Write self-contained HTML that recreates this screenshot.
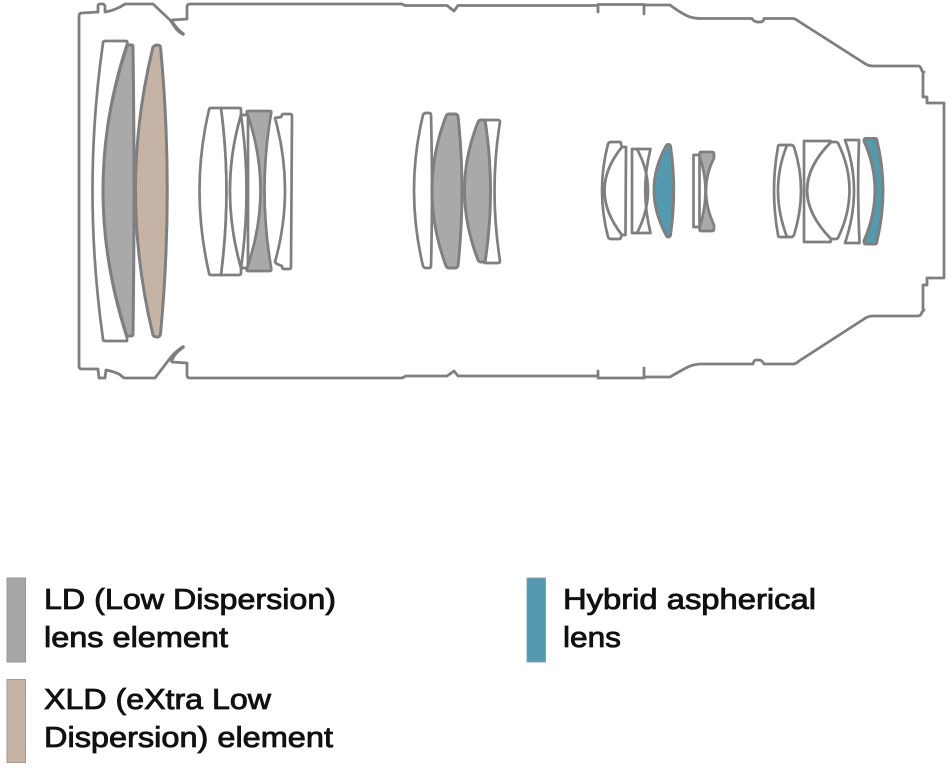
<!DOCTYPE html>
<html><head><meta charset="utf-8"><style>
html,body{margin:0;padding:0;background:#fff;width:952px;height:768px;overflow:hidden}
svg{display:block}
.l{fill:none;stroke:#7f7f7f;stroke-width:2.7;stroke-linejoin:round;stroke-linecap:round}
.g{fill:#a9a9a9}.x{fill:#c5b4a5}.b{fill:#5499ad}.w{fill:#fff}
text{font-family:"Liberation Sans",sans-serif;font-size:28.5px;fill:#111;stroke:#111;stroke-width:.85}
</style></head><body>
<svg width="952" height="768" viewBox="0 0 952 768" xmlns="http://www.w3.org/2000/svg">
<!-- barrel -->
<path class="l" style="stroke-width:2.8" d="M79,366 L79,16 Q79,13 82,13 L98,12 L98,6 Q98,4 100,4 L103,4 Q104,4 105,6 L105,12 Q112,11 120,7 L125,4 L153,4 L170,20 Q176,29 183,34 Q176,31 171.5,21 L172,20 L187,19 L187,7 Q187,4 190,4 L402,4 L405,5.5 L447,5.5 L454,11 L458,5.5 L598,5.5 L598,12 L598,4.5 L644,4.5 L644,14 L644,5 L670,5 Q682,14 690,17 Q695,18.5 702,18.5 L752,18.5 Q753,21 757,22 L761,22 Q764,21 764,18.5 L793,18.5 Q796,19 799,21.5 L864,63 Q868,66 873,66 L919,66 Q921,67 922,71 L924,72 L923,73 L923,97 L927,97 L927,103 L944,103 L944,278 L927,278 L927,285 L923,285 L923,309 L924,310 L922,312 Q921,316 918,316 L873,316 Q868,316 864,319 L799,361 Q796,364 793,364 L764,364 Q762,360 759,360 L756,360 Q754,360 753,364 L702,364 Q694,364 688,367 Q680,371 670,377 L646,377 L644,378 L644,368 L644,378 L598,378 L598,371 L598,376 L458,376 L454,371 L447,376 L406,376 L402,378 L190,378 Q187,378 187,375 L187,363 L172,362 L171.5,361 Q176,351 183,347 Q176,351 171,357 L155,378 L124,378 L119,374 Q112,371 106,370 L105,378 L99,378 L98,369 L82,369 Q79,369 79,366 Z"/>
<path d="M172,22 Q177,30 183,34 M171.5,358 Q177,351 183,347" fill="none" stroke="#7f7f7f" stroke-width="3.6" stroke-linecap="round"/>
<!-- group 1 -->
<path class="l w" d="M103,43 Q103,41 105,41 L126,41 Q128,41 127,44 Q79,190 127,338 L127,341 L105,341 Q103,341 103,339 Q82,190 103,43 Z"/>
<path class="l g" style="stroke-width:3" d="M127,46 L128,45 L132,45 Q133,45 133,47 Q135,190 133,334 Q133,336 131,336 L128,336 L127,336 Q79,190 127,46 Z"/>
<path class="l x" style="stroke-width:3" d="M153,47 Q155,45 157,45 Q160,45 160.5,47 Q174,190 160.5,334 Q160,337 157,337 Q154,337 153,335 Q118,190 153,47 Z"/>
<!-- group 2 -->
<path class="l w" d="M209,110 Q209,108 211,108 L221,108 Q232,190 221,275 L211,275 Q209,275 209,273 Q190,190 209,110 Z"/>
<path class="l w" d="M221,108 L240,108 Q241,108 241,110 L241,115 Q219,190 241,268 L241,273 Q241,275 239,275 L221,275 Q232,190 221,108 Z"/>
<path class="l w" d="M241,115 L248,115 L248,268 L241,268 Q219,190 241,115 Z"/>
<path class="l" d="M241,115 Q252,190 241,268"/>
<path class="l g" d="M248,111 L270,111 Q272,111 271,114 Q258,190 271,267 Q272,271 270,271 L248,271 Q246,271 247,268 Q274,190 247,113 Q246,111 248,111 Z"/>
<path class="l w" d="M275,118 L281,117 L282,115 Q282,114 284,114 L290,114 Q292,114 292,116 L291,267 Q291,269 289,269 L284,269 Q282,269 282,266 L277,264 L275,262 Q295,190 275,118 Z"/>
<!-- group 3 -->
<path class="l w" d="M423,115 Q424,113 426,113 L429,113 Q431,113 431,115 Q433,190 431,266 Q431,268 429,268 L426,268 Q424,268 423,266 Q405,190 423,115 Z"/>
<path class="l g" style="stroke-width:2.9" d="M446,116 Q447,114 449,114 L455,114 Q457,114 458,116 Q466,190 458,266 Q457,268 455,268 L449,268 Q447,268 446,266 Q418,190 446,116 Z"/>
<path class="l w" d="M485,120 L498,120 Q500,120 500,122 Q489,190 500,261 Q500,263 498,263 L485,263 Q496,190 485,120 Z"/>
<path class="l g" style="stroke-width:2.9" d="M478,122 Q479,120 481,120 L485,120 Q496,190 485,262 L481,262 Q479,262 478,260 Q451,190 478,122 Z"/>
<!-- group 4 -->
<path class="l w" d="M608,144 Q609,142 611,142 L620,142 Q621,142 621,144 L622,147 Q587,190 622,235 L621,237 Q621,239 619,239 L611,239 Q609,239 608,237 Q596,190 608,144 Z"/>
<path class="l w" d="M622,147 L626,147 L625.5,235 L622,235 Q587,190 622,147 Z"/>
<path class="l w" d="M632,149 L650.5,149 Q640,190 650.5,233 L632,233 Z"/>
<path class="l" d="M637,149 Q659,190 637,233"/>
<path class="l b" style="stroke-width:2.9" d="M666,146 Q667,144.5 668,144.5 Q670,144.5 670.5,146 Q677,190 670.5,235 Q670,237 668,237 Q667,237 666,235 Q642,190 666,146 Z"/>
<rect class="l w" x="693.5" y="155" width="6" height="72"/>
<path class="l g" d="M699.5,154 Q699.5,152 701,152 L712,152 Q714,152 714,154 L714,158 Q698,190 714,225 L714,229 Q714,231 712,231 L701,231 Q699.5,231 699.5,229 L700,226 Q711,190 700,158 Z"/>
<!-- group 5 -->
<path class="l w" d="M778,147 Q778,145 780,145 L791,145 Q793,145 794,147 Q808,190 794,235 Q793,237 791,237 L780,237 Q778,237 778,235 Q770,190 778,147 Z"/>
<path class="l" d="M787,145 Q769,190 787,237"/>
<path class="l w" d="M831,142 L836,142 Q837,142 838,143 Q861,190 838,238 Q837,239 836,239 L831,239 Q783,190 831,142 Z"/>
<path class="l w" d="M804,141 L830.5,141 L831,142 Q783,190 831,239 L830.5,242 L804,242 Z"/>
<path class="l w" d="M845,140 L859,140 Q857,190 859.5,243 L845,243 Q863,190 845,140 Z"/>
<path class="l b" style="stroke-width:3" d="M864,141 Q864,138.5 866,138.5 L875,138.5 Q877,138.5 877,141 Q889,190 877,241 Q877,244 875,244 L866,244 Q864,244 864,241 Q886,190 864,141 Z"/>
<!-- legend -->
<rect x="7" y="578" width="18.5" height="84" fill="#a6a6a6" stroke="#9a9a9a"/>
<rect x="7" y="679.5" width="18.5" height="83" fill="#c5b4a5" stroke="#a39a90"/>
<rect x="527" y="578" width="18.5" height="84" fill="#5499ad" stroke="#84a0a8"/>
<text x="44" y="609" textLength="292" lengthAdjust="spacingAndGlyphs">LD (Low Dispersion)</text>
<text x="44" y="647" textLength="184" lengthAdjust="spacingAndGlyphs">lens element</text>
<text x="44" y="709" textLength="227" lengthAdjust="spacingAndGlyphs">XLD (eXtra Low</text>
<text x="44" y="747" textLength="289" lengthAdjust="spacingAndGlyphs">Dispersion) element</text>
<text x="563" y="609" textLength="253" lengthAdjust="spacingAndGlyphs">Hybrid aspherical</text>
<text x="563" y="647" textLength="58" lengthAdjust="spacingAndGlyphs">lens</text>
</svg>
</body></html>
